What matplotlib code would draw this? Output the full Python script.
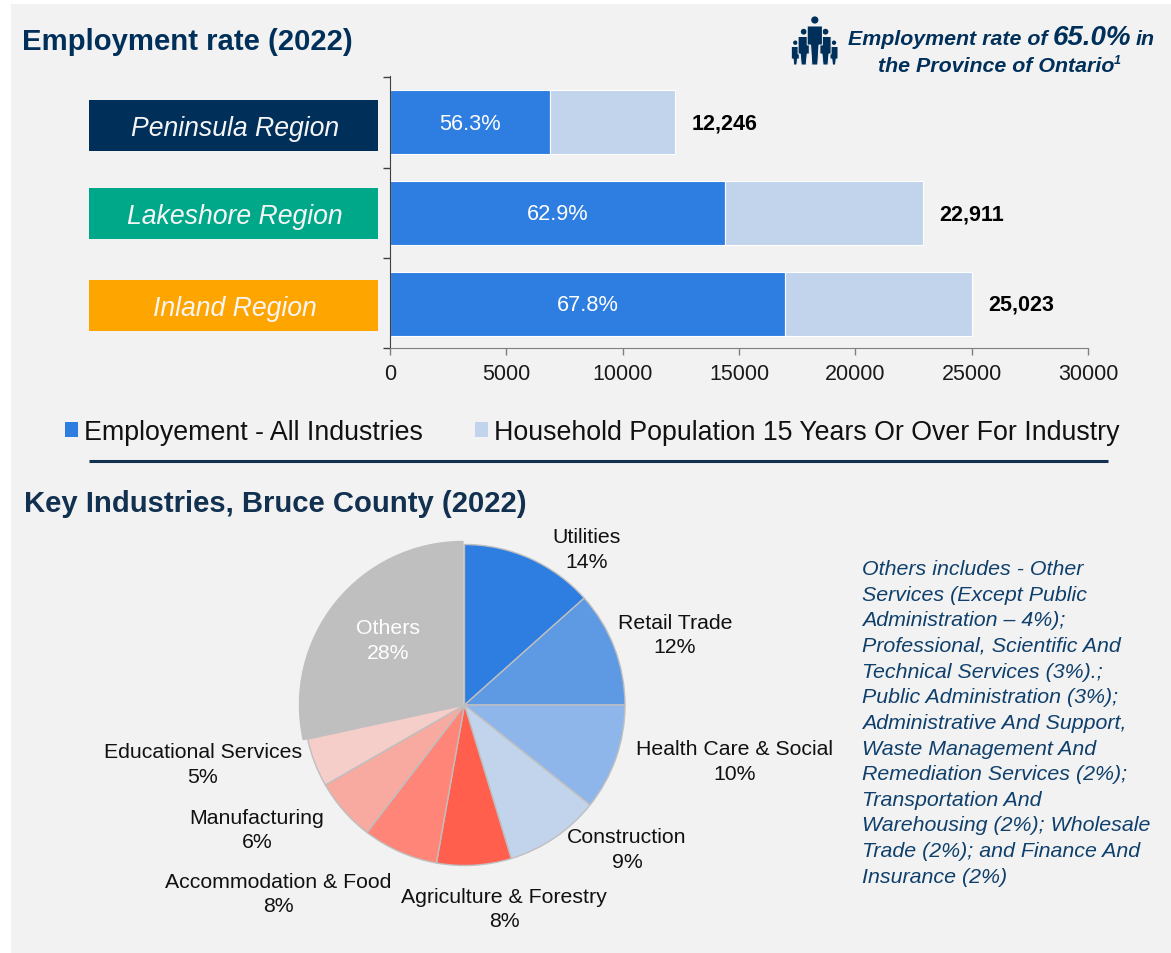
import matplotlib
matplotlib.use("Agg")
import matplotlib.pyplot as plt
from matplotlib.patches import Rectangle, Circle, Patch, Polygon

W, H = 1171, 954
plt.rcParams['font.family'] = ['Liberation Sans', 'DejaVu Sans']

# Employment data
regions = ['Peninsula Region', 'Lakeshore Region', 'Inland Region']
region_colors = ['#00305a', '#00a88a', '#ffa500']
employed = [6894, 14411, 16966]
population = [12246, 22911, 25023]
rates = ['56.3%', '62.9%', '67.8%']
totals = ['12,246', '22,911', '25,023']
xticks = [0, 5000, 10000, 15000, 20000, 25000, 30000]

# Industry data
industries = ['Utilities', 'Retail Trade', 'Health Care & Social', 'Construction',
              'Agriculture & Forestry', 'Accommodation & Food', 'Manufacturing',
              'Educational Services', 'Others']
shares = [13.4, 11.6, 10.7, 9.6, 7.5, 7.6, 6.3, 4.9, 28.4]
share_labels = ['14%', '12%', '10%', '9%', '8%', '8%', '6%', '5%', '28%']
pie_colors = ['#2e7de1', '#5e9ae3', '#8fb6ea', '#c1d4ec', '#ff5f4c', '#ff8578',
              '#f8a9a0', '#f5cdc9', '#bfbfbf']
label_xy = [(587, 550), (675, 635.5), (735, 762), (627, 850), (504, 909.5),
            (278, 894.5), (257, 830.5), (203, 765), (388, 641)]

note_lines = ['Others includes - Other', 'Services (Except Public',
              'Administration \u2013 4%);', 'Professional, Scientific And',
              'Technical Services (3%).;', 'Public Administration (3%);',
              'Administrative And Support,', 'Waste Management And',
              'Remediation Services (2%);', 'Transportation And',
              'Warehousing (2%); Wholesale', 'Trade (2%); and Finance And',
              'Insurance (2%)']

NAVY = '#00305a'
TITLE = '#12304f'
PANEL = '#f2f2f2'


def px_axes(fig, x0, y0, x1, y1):
    # axes from pixel box, y measured from the top
    return fig.add_axes([x0 / W, 1 - y1 / H, (x1 - x0) / W, (y1 - y0) / H])


fig = plt.figure(figsize=(W / 100, H / 100), dpi=100, facecolor='white')

# Overlay in pixel coords for panel, titles and annotations
bg = fig.add_axes([0, 0, 1, 1], zorder=0)
bg.set_xlim(0, W)
bg.set_ylim(H, 0)
bg.axis('off')
bg.add_patch(Rectangle((11, 5), W - 11, 948.5, fc=PANEL, ec='none'))

top = fig.add_axes([0, 0, 1, 1], zorder=5)
top.set_xlim(0, W)
top.set_ylim(H, 0)
top.axis('off')
top.patch.set_alpha(0)

# Bars
ax = px_axes(fig, 390, 77, 1088, 349)
ax.patch.set_alpha(0)
ax.set_zorder(2)
ypos = range(len(regions))
rest = [p - e for p, e in zip(population, employed)]
ax.barh(ypos, employed, height=0.705, color='#2e7de1', edgecolor='white', linewidth=0.8)
ax.barh(ypos, rest, left=employed, height=0.705, color='#c1d4ec', edgecolor='white', linewidth=0.8)
ax.set_xlim(0, 30000)
ax.set_ylim(2.49, -0.51)
ax.set_xticks(xticks)
ax.set_xticklabels([str(v) for v in xticks], fontsize=15.5, color='#1a1a1a')
ax.set_yticks([-0.5, 0.5, 1.5, 2.49])
ax.set_yticklabels([])
ax.tick_params(axis='x', length=5, width=1, color='#7f7f7f', pad=6)
ax.tick_params(axis='y', length=5, width=1, color='#404040')
for s in ['top', 'right']:
    ax.spines[s].set_visible(False)
ax.spines['bottom'].set_color('#7f7f7f')
ax.spines['left'].set_color('#404040')
for i in ypos:
    ax.text(employed[i] / 2, i + 0.01, rates[i], ha='center', va='center', color='white', fontsize=15.7)
    ax.text(population[i] + 700, i + 0.01, totals[i], ha='left', va='center', color='black',
            fontsize=15.5, fontweight='bold')

# Region name boxes
box_tops = [100.5, 188.7, 281]
for name, col, y in zip(regions, region_colors, box_tops):
    top.add_patch(Rectangle((89, y), 289, 51.3, fc=col, ec='none'))
    top.text(235, y + 28, name, ha='center', va='center', color='#f5f5f5',
             fontsize=19.2, style='italic')

# Legend
fig.legend([Patch(fc='#2e7de1'), Patch(fc='#c1d4ec')],
           ['Employement - All Industries', 'Household Population 15 Years Or Over For Industry'],
           loc='center', bbox_to_anchor=(592.5 / W, 1 - 433 / H), ncol=2, frameon=False,
           fontsize=19.25, handlelength=0.48, handleheight=0.48, handletextpad=0.23,
           columnspacing=1.95, labelcolor='#111111')

# Titles and divider
top.text(22, 42, 'Employment rate (2022)', ha='left', va='center', fontsize=21.1,
         fontweight='bold', color=NAVY)
top.text(24, 504, 'Key Industries, Bruce County (2022)', ha='left', va='center', fontsize=21.1,
         fontweight='bold', color=TITLE)
top.plot([89, 1108], [462, 462], color=TITLE, lw=2.2, solid_capstyle='butt')

# Province callout
bold_it = dict(color=NAVY, fontweight='bold', style='italic', va='baseline')
top.text(1048, 45, 'Employment rate of', ha='right', fontsize=15.4, **bold_it)
top.text(1053, 45, '65.0%', ha='left', fontsize=20, **bold_it)
top.text(1136, 45, 'in', ha='left', fontsize=15.4, **bold_it)
top.text(996, 71.5, 'the Province of Ontario', ha='center', fontsize=15.4, **bold_it)
top.text(1114, 64, '1', ha='left', fontsize=9, **bold_it)

# People icon: centre x, head y, head r, torso half width, torso top, leg half width, hip y
people = [(795.3, 43.7, 2.2, 4, 46.5, 2.2, 60), (834, 43.7, 2.2, 4, 46.5, 2.2, 60),
          (803.7, 32.7, 2.9, 5.6, 36.5, 3.5, 55), (825.5, 32.7, 2.9, 5.6, 36.5, 3.5, 55),
          (814.8, 21, 3.6, 7.6, 26, 4.2, 46)]
for px, hy, hr, hw, y0, lw_, hip in people:
    top.add_patch(Circle((px, hy), hr, fc=NAVY, ec='none'))
    outline = [(px - hw, y0 + 1), (px + hw, y0 + 1), (px + hw, hip), (px + lw_, hip), (px + lw_ * 0.7, 66),
               (px - lw_ * 0.7, 66), (px - lw_, hip), (px - hw, hip)]
    top.add_patch(Polygon(outline, closed=True, fc=NAVY, ec=PANEL, lw=0.7))

# Pie
cx, cy, r = 464.5, 706, 160.5
frame = 172
pie_ax = px_axes(fig, cx - frame, cy - frame, cx + frame, cy + frame)
pie_ax.set_zorder(2)
wedges, _ = pie_ax.pie(shares, colors=pie_colors, startangle=90, counterclock=False, radius=r,
                       wedgeprops=dict(edgecolor='#bfbfbf', linewidth=1))
# the Others slice sits a little proud of the rest
wedges[-1].set_radius(r + 3)
wedges[-1].set_center((-1.5, 0))
pie_ax.set_xlim(-frame, frame)
pie_ax.set_ylim(-frame, frame)

for name, lab, (x, y) in zip(industries, share_labels, label_xy):
    top.text(x, y, name + '\n' + lab, ha='center', va='center', fontsize=15.35,
             color='white' if name == 'Others' else '#111111', linespacing=1.38)

# Side note
for i, line in enumerate(note_lines):
    top.text(862, 569.5 + i * 25.65, line, ha='left', va='center', fontsize=15.4,
             style='italic', color='#0f3f6b')

fig.savefig('out.png', dpi=100, facecolor='white')
